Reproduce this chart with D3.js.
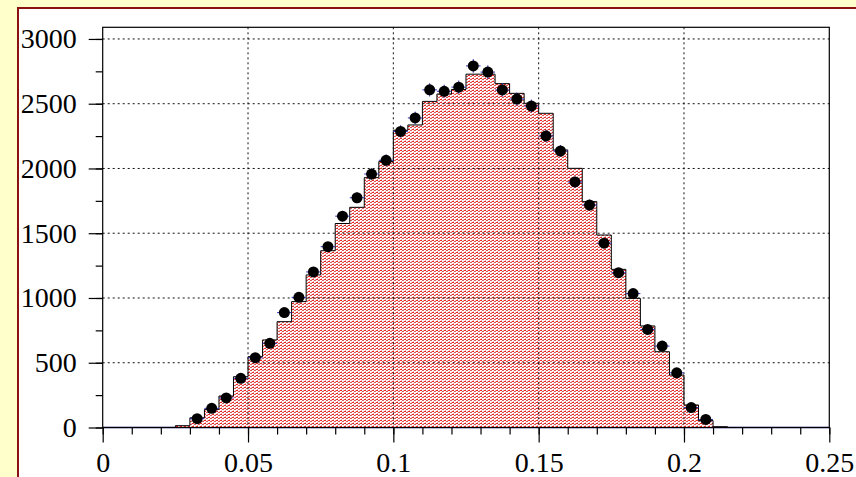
<!DOCTYPE html>
<html>
<head>
<meta charset="utf-8">
<script src="https://cdn.jsdelivr.net/npm/d3@7"></script>
<style>
  html, body { margin: 0; padding: 0; background: #ffffcc; }
  svg { display: block; }
</style>
</head>
<body>
<svg id="chart" width="856" height="477"></svg>
<script>
// bin width 0.005, left edges of the filled bins
const binWidth = 0.005;
const histEdges = [0.025, 0.03, 0.035, 0.04, 0.045, 0.05, 0.055, 0.06, 0.065, 0.07,
  0.075, 0.08, 0.085, 0.09, 0.095, 0.1, 0.105, 0.11, 0.115, 0.12,
  0.125, 0.13, 0.135, 0.14, 0.145, 0.15, 0.155, 0.16, 0.165, 0.17,
  0.175, 0.18, 0.185, 0.19, 0.195, 0.2, 0.205, 0.21];
const histValues = [14, 75, 140, 243, 392, 547, 676, 817, 972, 1178,
  1365, 1575, 1700, 1929, 2053, 2295, 2336, 2518, 2575, 2610,
  2728, 2728, 2655, 2580, 2503, 2426, 2143, 2001, 1744, 1486,
  1221, 997, 784, 585, 405, 174, 53, 6];

// data points at bin centres
const dataX = [0.0325, 0.0375, 0.0425, 0.0475, 0.0525, 0.0575, 0.0625, 0.0675, 0.0725, 0.0775,
  0.0825, 0.0875, 0.0925, 0.0975, 0.1025, 0.1075, 0.1125, 0.1175, 0.1225, 0.1275,
  0.1325, 0.1375, 0.1425, 0.1475, 0.1525, 0.1575, 0.1625, 0.1675, 0.1725, 0.1775,
  0.1825, 0.1875, 0.1925, 0.1975, 0.2025, 0.2075];
const dataY = [68, 148, 228, 380, 539, 650, 887, 1005, 1201, 1396,
  1632, 1774, 1957, 2063, 2286, 2390, 2607, 2596, 2628, 2792,
  2744, 2606, 2536, 2482, 2251, 2135, 1896, 1718, 1423, 1195,
  1034, 757, 629, 422, 154, 62];

const xTicks = [0, 0.05, 0.1, 0.15, 0.2, 0.25];
const xTickLabels = ["0", "0.05", "0.1", "0.15", "0.2", "0.25"];
const yTicks = [0, 500, 1000, 1500, 2000, 2500, 3000];

const svg = d3.select("#chart");
const W = 856, H = 477;
const plot = { left: 102.7, right: 829.3, top: 27.3, bottom: 427.5 };

// frame
svg.append("rect").attr("x", 0).attr("y", 0).attr("width", W).attr("height", H).attr("fill", "#ffffcc");
svg.append("rect").attr("x", 18).attr("y", 8).attr("width", W).attr("height", H)
  .attr("fill", "#ffffff").attr("stroke", "#8b1212").attr("stroke-width", 2);

const x = d3.scaleLinear().domain([0, 0.25]).range([plot.left, plot.right]);
const y = d3.scaleLinear().domain([0, 3090]).range([plot.bottom, plot.top]);

// red dotted fill pattern
const defs = svg.append("defs");
const pat = defs.append("pattern").attr("id", "dots")
  .attr("patternUnits", "userSpaceOnUse").attr("width", 4).attr("height", 3);
pat.append("rect").attr("width", 4).attr("height", 3).attr("fill", "#ffffff");
pat.append("rect").attr("x", 0).attr("y", 0).attr("width", 2).attr("height", 1).attr("fill", "#ea2626");
pat.append("rect").attr("x", 2).attr("y", 1).attr("width", 2).attr("height", 1).attr("fill", "#d85858");
pat.append("rect").attr("x", 1).attr("y", 2).attr("width", 1).attr("height", 1).attr("fill", "#f2a0a0");
pat.append("rect").attr("x", 3).attr("y", 0).attr("width", 1).attr("height", 1).attr("fill", "#f6b4b4");

// zero line (blue)
svg.append("line")
  .attr("x1", x(0)).attr("x2", x(0.25))
  .attr("y1", y(0)).attr("y2", y(0))
  .attr("stroke", "#3a3aa8").attr("stroke-width", 1.5);

// histogram
const hist = histEdges.map((e, i) => ({ x0: e, x1: e + binWidth, v: histValues[i] }));
const stepPts = hist.map(d => [d.x0, d.v]);
stepPts.push([hist[hist.length - 1].x1, hist[hist.length - 1].v]);

svg.append("path")
  .datum(stepPts)
  .attr("fill", "url(#dots)")
  .attr("d", d3.area().x(d => x(d[0])).y0(y(0)).y1(d => y(d[1])).curve(d3.curveStepAfter));

const outline = [[hist[0].x0, 0]].concat(stepPts, [[hist[hist.length - 1].x1, 0]]);
svg.append("path")
  .datum(outline)
  .attr("fill", "none").attr("stroke", "#000").attr("stroke-width", 1)
  .attr("d", d3.line().x(d => x(d[0])).y(d => y(d[1])).curve(d3.curveStepAfter));

// grid
const grid = svg.append("g").attr("stroke", "#111").attr("stroke-width", 1).attr("stroke-dasharray", "2,3");
grid.selectAll("line.gx").data(xTicks.slice(1, -1)).join("line")
  .attr("x1", d => x(d)).attr("x2", d => x(d))
  .attr("y1", plot.top).attr("y2", plot.bottom);
grid.selectAll("line.gy").data(yTicks.slice(1)).join("line")
  .attr("x1", plot.left).attr("x2", plot.right)
  .attr("y1", d => y(d)).attr("y2", d => y(d));

// data points with error bars
const pts = svg.append("g");
pts.selectAll("line.ex").data(dataX).join("line")
  .attr("x1", d => x(d - binWidth / 2)).attr("x2", d => x(d + binWidth / 2))
  .attr("y1", (d, i) => y(dataY[i])).attr("y2", (d, i) => y(dataY[i]))
  .attr("stroke", "#3030c0").attr("stroke-width", 1);
pts.selectAll("line.ey").data(dataX).join("line")
  .attr("x1", d => x(d)).attr("x2", d => x(d))
  .attr("y1", (d, i) => y(dataY[i] - Math.sqrt(dataY[i])))
  .attr("y2", (d, i) => y(dataY[i] + Math.sqrt(dataY[i])))
  .attr("stroke", "#3030c0").attr("stroke-width", 1);
pts.selectAll("circle").data(dataX).join("circle")
  .attr("cx", d => x(d)).attr("cy", (d, i) => y(dataY[i]))
  .attr("r", 5.5).attr("fill", "#000");

// plot box
svg.append("rect")
  .attr("x", plot.left).attr("y", plot.top)
  .attr("width", plot.right - plot.left).attr("height", plot.bottom - plot.top)
  .attr("fill", "none").attr("stroke", "#000").attr("stroke-width", 1.2);

// axes
const font = "'Liberation Serif', 'Times New Roman', serif";
const yMinor = svg.append("g").attr("transform", `translate(${plot.left},0)`)
  .call(d3.axisLeft(y).tickValues(d3.range(0, 3001, 250)).tickSize(7).tickFormat(""));
const yAxis = svg.append("g").attr("transform", `translate(${plot.left},0)`)
  .call(d3.axisLeft(y).tickValues(yTicks).tickSize(14).tickPadding(12).tickFormat(d3.format("d")));
const xMinor = svg.append("g").attr("transform", `translate(0,${plot.bottom})`)
  .call(d3.axisBottom(x).tickValues(d3.range(0, 0.2501, 0.01)).tickSize(7).tickFormat(""));
const xAxis = svg.append("g").attr("transform", `translate(0,${plot.bottom})`)
  .call(d3.axisBottom(x).tickValues(xTicks).tickSize(15).tickPadding(10)
    .tickFormat((d, i) => xTickLabels[i]));

[yMinor, yAxis, xMinor, xAxis].forEach(g => {
  g.select(".domain").remove();
  g.selectAll(".tick line").attr("stroke", "#000").attr("stroke-width", 1.2);
  g.selectAll("text").attr("fill", "#000").style("font-family", font).style("font-size", "28px");
});
</script>
</body>
</html>
